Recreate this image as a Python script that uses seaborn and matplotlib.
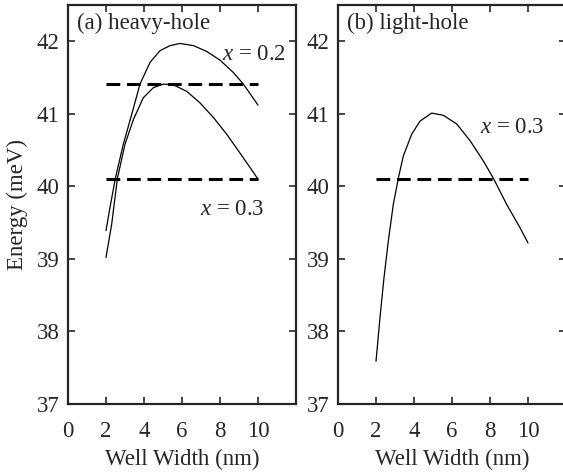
import numpy as np
import pandas as pd
import matplotlib
matplotlib.use("Agg")
import matplotlib.pyplot as plt
import seaborn as sns

# heavy-hole, x = 0.2 (upper curve)
hh02_width = [2.0, 2.21, 2.5, 2.91, 3.35, 3.79, 4.32, 4.84, 5.37, 5.89, 6.6, 7.3, 8.0, 8.7, 9.23, 10.0]
hh02_energy = [39.39, 39.71, 40.12, 40.58, 40.99, 41.41, 41.71, 41.87, 41.94, 41.97, 41.94, 41.86, 41.74, 41.57, 41.41, 41.12]

# heavy-hole, x = 0.3 (lower curve)
hh03_width = [2.0, 2.3, 2.6, 3.0, 3.44, 3.96, 4.49, 5.02, 5.54, 6.25, 6.95, 7.65, 8.35, 9.05, 9.58, 10.0]
hh03_energy = [39.02, 39.48, 40.11, 40.58, 40.92, 41.22, 41.36, 41.41, 41.40, 41.31, 41.15, 40.95, 40.72, 40.46, 40.26, 40.10]

# light-hole, x = 0.3
lh03_width = [2.0, 2.21, 2.42, 2.65, 2.91, 3.18, 3.44, 3.88, 4.32, 4.93, 5.54, 6.25, 6.95, 7.65, 8.18, 8.88, 9.58, 10.0]
lh03_energy = [37.59, 38.19, 38.74, 39.25, 39.75, 40.12, 40.42, 40.72, 40.90, 41.01, 40.98, 40.86, 40.63, 40.35, 40.11, 39.75, 39.43, 39.22]

# dashed reference levels
hh_levels = [41.41, 40.10]
lh_levels = [40.10]
level_span = [2, 10]

sns.set_style("ticks")
plt.rcParams['font.family'] = ['Liberation Serif', 'DejaVu Serif']
plt.rcParams['mathtext.fontset'] = 'custom'
plt.rcParams['mathtext.rm'] = 'Liberation Serif'
plt.rcParams['mathtext.it'] = 'Liberation Serif:italic'

fs = 16.5

fig = plt.figure(figsize=(5.63, 4.75), dpi=100)
ax_a = fig.add_axes([68 / 563, 71 / 475, 228 / 563, 399 / 475])
ax_b = fig.add_axes([338 / 563, 71 / 475, 228 / 563, 399 / 475])

sns.lineplot(x=hh02_width, y=hh02_energy, ax=ax_a, color='black', lw=0.9, sort=False)
sns.lineplot(x=hh03_width, y=hh03_energy, ax=ax_a, color='black', lw=0.9, sort=False)
sns.lineplot(x=lh03_width, y=lh03_energy, ax=ax_b, color='black', lw=0.9, sort=False)

for lev in hh_levels:
    ax_a.plot(level_span, [lev, lev], color='black', lw=2.2, dashes=(4.5, 2.2))
for lev in lh_levels:
    ax_b.plot(level_span, [lev, lev], color='black', lw=2.2, dashes=(4.5, 2.2))

for ax in (ax_a, ax_b):
    ax.set_xlim(0, 12)
    ax.set_ylim(37, 42.5)
    ax.set_xticks([0, 2, 4, 6, 8, 10])
    ax.set_yticks([37, 38, 39, 40, 41, 42])
    ax.tick_params(direction='in', length=5, width=1.2, labelsize=fs,
                   top=True, right=True)
    ax.tick_params(axis='y', pad=6)
    ax.tick_params(axis='x', pad=12)
    for sp in ax.spines.values():
        sp.set_linewidth(1.6)
        sp.set_visible(True)
    ax.set_xlabel('Well Width (nm)', fontsize=fs, labelpad=5)

ax_a.set_ylabel('Energy (meV)', fontsize=fs, labelpad=6)

ax_a.text(0.47, 42.24, '(a) heavy-hole', fontsize=fs, va='center')
ax_b.text(0.47, 42.24, '(b) light-hole', fontsize=fs, va='center')
ax_a.text(8.1, 41.82, '$x$ = 0.2', fontsize=fs, va='center')
ax_a.text(6.95, 39.68, '$x$ = 0.3', fontsize=fs, va='center')
ax_b.text(7.47, 40.81, '$x$ = 0.3', fontsize=fs, va='center')

fig.savefig('out.png', dpi=100)
